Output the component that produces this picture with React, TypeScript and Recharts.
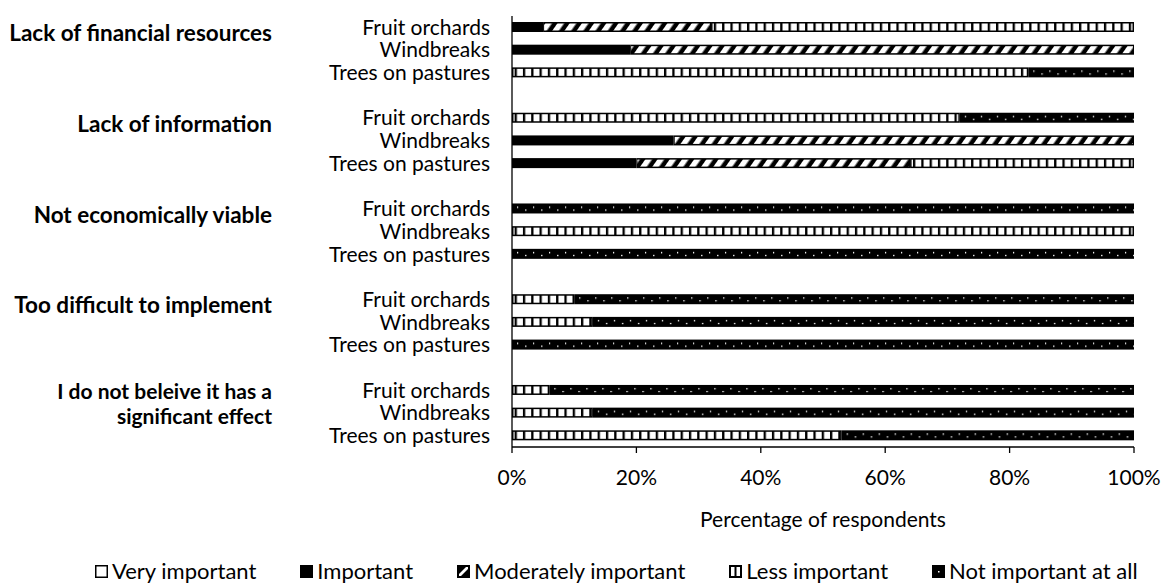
import React from 'react';
import { BarChart, Bar, XAxis, YAxis, Legend, Label } from 'recharts';

const FONT = 'Lato, "Open Sans", sans-serif';

// reasons (outer category); long one is split over two lines like the original
const reasons = [
  ['Lack of financial resources'],
  ['Lack of information'],
  ['Not economically viable'],
  ['Too difficult to implement'],
  ['I do not beleive it has a', 'significant effect'],
];
const practices = ['Fruit orchards', 'Windbreaks', 'Trees on pastures'];

// % of respondents, 3 practices per reason in the order above
const veryImportant = [0, 0, 0, 0, 0, 0, 0, 0, 0, 0, 0, 0, 0, 0, 0];
const important = [5, 19, 0, 0, 26, 20, 0, 0, 0, 0, 0, 0, 0, 0, 0];
const moderatelyImportant = [27, 81, 0, 0, 74, 44, 0, 0, 0, 0, 0, 0, 0, 0, 0];
const lessImportant = [68, 0, 83, 72, 0, 36, 0, 100, 0, 10, 13, 0, 6, 13, 53];
const notImportant = [0, 0, 17, 28, 0, 0, 100, 0, 100, 90, 87, 100, 94, 87, 47];

const xTicks = [0, 20, 40, 60, 80, 100];

const legendItems = [
  { kind: 'very', label: 'Very important' },
  { kind: 'imp', label: 'Important' },
  { kind: 'mod', label: 'Moderately important' },
  { kind: 'less', label: 'Less important' },
  { kind: 'not', label: 'Not important at all' },
];

type Row = {
  id: string;
  practice: string;
  reasonLines: string[] | null;
  very: number;
  imp: number;
  mod: number;
  less: number;
  not: number;
};

// blank row between reason groups, like the spacing in the original
const data: Row[] = [];
reasons.forEach((lines, g) => {
  if (g > 0) {
    data.push({ id: `gap${g}`, practice: '', reasonLines: null, very: 0, imp: 0, mod: 0, less: 0, not: 0 });
  }
  practices.forEach((practice, p) => {
    const i = g * 3 + p;
    data.push({
      id: `${g}-${p}`,
      practice,
      reasonLines: p === 0 ? lines : null,
      very: veryImportant[i],
      imp: important[i],
      mod: moderatelyImportant[i],
      less: lessImportant[i],
      not: notImportant[i],
    });
  });
});

function RowTick(props: any) {
  const { x, y, payload } = props;
  const row = data.find((r) => r.id === payload.value);
  if (!row || !row.practice) return <g />;
  const lines = row.reasonLines;
  const two = lines && lines.length > 1;
  return (
    <g>
      <text x={x} y={y} dy="0.35em" textAnchor="end" fontSize={21} fill="#000" fontFamily={FONT}>
        {row.practice}
      </text>
      {lines &&
        lines.map((line, k) => (
          <text
            key={k}
            x={272}
            y={y + (two ? 1 + k * 25 : 6)}
            dy="0.35em"
            textAnchor="end"
            fontSize={two ? 21 : 22.5}
            fontWeight="bold"
            fill="#000"
            fontFamily={FONT}
          >
            {line}
          </text>
        ))}
    </g>
  );
}

function Segment(props: any) {
  const { x, y, width, height, kind, index } = props;
  if (!width || width <= 0.5) return <g />;
  if (kind === 'very') {
    return <rect x={x} y={y} width={width} height={height} fill="#fff" stroke="#000" strokeWidth={1} />;
  }
  if (kind === 'imp') {
    return <rect x={x} y={y} width={width} height={height} fill="#000" />;
  }
  if (kind === 'mod') {
    return (
      <g>
        <rect x={x} y={y} width={width} height={height} fill="#000" />
        <rect x={x + 1} y={y + 1.5} width={width - 2} height={height - 3} fill="url(#hatch)" />
      </g>
    );
  }
  if (kind === 'less') {
    return (
      <g>
        <rect x={x} y={y} width={width} height={height} fill="#000" />
        <rect x={x + 1.5} y={y + 1.5} width={width - 3} height={height - 3} fill="url(#vstripe)" />
      </g>
    );
  }
  const pid = `dots-${index}`;
  return (
    <g>
      <defs>
        <pattern id={pid} x={x} y={y} width={16} height={height} patternUnits="userSpaceOnUse">
          <rect width={16} height={height} fill="#000" />
          <rect x={5} y={height * 0.3} width={1.2} height={1.5} fill="#fff" />
          <rect x={13} y={height * 0.6} width={1.5} height={1.2} fill="#fff" />
        </pattern>
      </defs>
      <rect x={x} y={y} width={width} height={height} fill={`url(#${pid})`} />
    </g>
  );
}

function Swatch({ kind }: { kind: string }) {
  return (
    <svg width={13} height={13} style={{ display: 'block' }}>
      {kind === 'very' && <rect x={0.75} y={0.75} width={11.5} height={11.5} fill="#fff" stroke="#000" strokeWidth={1.5} />}
      {kind === 'imp' && <rect width={13} height={13} fill="#000" />}
      {kind === 'mod' && (
        <g>
          <rect width={13} height={13} fill="#000" />
          <polygon points="2,9 9,2 11,2 11,4 4,11 2,11" fill="#fff" />
        </g>
      )}
      {kind === 'less' && (
        <g>
          <rect x={1} y={1} width={11} height={11} fill="#fff" stroke="#000" strokeWidth={2} />
          <rect x={5.5} y={1} width={2} height={11} fill="#000" />
        </g>
      )}
      {kind === 'not' && (
        <g>
          <rect width={13} height={13} fill="#000" />
          <rect x={6} y={6} width={1.5} height={1.5} fill="#fff" />
        </g>
      )}
    </svg>
  );
}

function LegendContent() {
  return (
    <div style={{ display: 'flex', gap: 44, fontFamily: FONT, fontSize: 22, lineHeight: '22px', color: '#000' }}>
      {legendItems.map((it) => (
        <span key={it.kind} style={{ display: 'flex', alignItems: 'center', gap: 4, whiteSpace: 'nowrap' }}>
          <Swatch kind={it.kind} />
          {it.label}
        </span>
      ))}
    </div>
  );
}

export default function App() {
  return (
    <div style={{ position: 'fixed', left: 0, top: 0, width: 1162, height: 584, background: '#fff' }}>
      <BarChart
        width={1162}
        height={584}
        data={data}
        layout="vertical"
        margin={{ top: 16, right: 28, left: 0, bottom: 97 }}
        barSize={10}
      >
        <defs>
          <pattern id="hatch" width={10} height={10} patternUnits="userSpaceOnUse" patternTransform="rotate(35)">
            <rect width={10} height={10} fill="#000" />
            <rect width={5.5} height={10} fill="#fff" />
          </pattern>
          <pattern id="vstripe" width={8.3} height={4} patternUnits="userSpaceOnUse">
            <rect width={8.3} height={4} fill="#fff" />
            <rect width={2.3} height={4} fill="#000" />
          </pattern>
        </defs>
        <XAxis
          type="number"
          domain={[0, 100]}
          ticks={xTicks}
          interval={0}
          tickFormatter={(v) => `${v}%`}
          axisLine={{ stroke: '#000', strokeWidth: 1.3 }}
          tickLine={{ stroke: '#000', strokeWidth: 1.3 }}
          tickSize={6}
          tickMargin={17}
          height={40}
          tick={{ fontSize: 21, fill: '#000', fontFamily: FONT }}
        >
          <Label
            value="Percentage of respondents"
            position="bottom"
            offset={25}
            style={{ fontSize: 21, fill: '#000', fontFamily: FONT }}
          />
        </XAxis>
        <YAxis
          type="category"
          dataKey="id"
          width={512}
          interval={0}
          axisLine={{ stroke: '#000', strokeWidth: 1.3 }}
          tickLine={false}
          tickSize={0}
          tickMargin={22}
          tick={<RowTick />}
        />
        <Legend
          verticalAlign="middle"
          content={<LegendContent />}
          wrapperStyle={{ left: 95, top: 560, width: 'auto' }}
        />
        <Bar dataKey="very" stackId="a" isAnimationActive={false} shape={(p: any) => <Segment {...p} kind="very" />} />
        <Bar dataKey="imp" stackId="a" isAnimationActive={false} shape={(p: any) => <Segment {...p} kind="imp" />} />
        <Bar dataKey="mod" stackId="a" isAnimationActive={false} shape={(p: any) => <Segment {...p} kind="mod" />} />
        <Bar dataKey="less" stackId="a" isAnimationActive={false} shape={(p: any) => <Segment {...p} kind="less" />} />
        <Bar dataKey="not" stackId="a" isAnimationActive={false} shape={(p: any) => <Segment {...p} kind="not" />} />
      </BarChart>
    </div>
  );
}
